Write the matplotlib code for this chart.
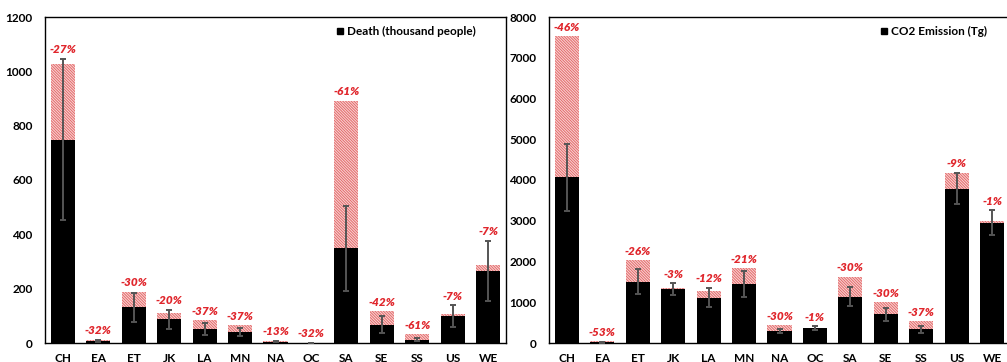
import matplotlib
matplotlib.use("Agg")
import matplotlib.pyplot as plt
from matplotlib.lines import Line2D
import numpy as np

plt.rcParams['font.family'] = ['Lato', 'DejaVu Sans']
plt.rcParams['font.weight'] = 'bold'
plt.rcParams['hatch.linewidth'] = 0.7

regions = ["CH", "EA", "ET", "JK", "LA", "MN", "NA", "OC", "SA", "SE", "SS", "US", "WE"]

# Premature deaths (thousand people): baseline total, relative change (%), uncertainty
death_total = [1026, 12.5, 188, 109, 84, 65, 6.3, 1.5, 892, 117, 33, 107, 286]
death_pct = [-27, -32, -30, -20, -37, -37, -13, -32, -61, -42, -61, -7, -7]
death_err = [298, 4, 53, 35, 22, 16, 3, 0.5, 158, 30, 6, 39, 110]

# CO2 emission (Tg): baseline total, relative change (%), uncertainty
co2_total = [7524, 44, 2037, 1361, 1264, 1834, 434, 371, 1630, 1004, 532, 4166, 2986]
co2_pct = [-46, -53, -26, -3, -12, -21, -30, -1, -30, -30, -37, -9, -1]
co2_err = [813, 15, 317, 143, 240, 308, 50, 48, 235, 158, 90, 386, 300]

death_ticks = [0, 200, 400, 600, 800, 1000, 1200]
co2_ticks = [0, 1000, 2000, 3000, 4000, 5000, 6000, 7000, 8000]

RED = "#e0262c"
HATCH_EDGE = "#e36a6a"
HATCH_FACE = "#f9d6d6"

W, H = 1007, 362
fig = plt.figure(figsize=(W / 100, H / 100), dpi=100)
ax1 = fig.add_axes([45 / W, 1 - 343 / H, 461 / W, 326 / H])
ax2 = fig.add_axes([549 / W, 1 - 343 / H, 461 / W, 326 / H])


def draw_panel(ax, total, pct, err, ticks, legend_label, legend_x):
    total = np.array(total, dtype=float)
    pct = np.array(pct, dtype=float)
    err = np.array(err, dtype=float)
    reduced = total * (1 + pct / 100.0)
    x = np.arange(len(regions))
    width = 0.68

    ax.bar(x, total, width, color=HATCH_FACE, edgecolor=HATCH_EDGE,
           hatch="\\" * 12, linewidth=0, zorder=2)
    ax.bar(x, reduced, width, color="black", linewidth=0, zorder=3)
    ax.errorbar(x, reduced, yerr=err, fmt="none", ecolor="#555555",
                elinewidth=1.4, capsize=2.2, capthick=1.4, zorder=4)

    for xi, t, r, e, p in zip(x, total, reduced, err, pct):
        top = max(t, r + e)
        ax.annotate(f"{int(p)}%", (xi, top), xytext=(0, 2.5),
                    textcoords="offset points", ha="center", va="bottom",
                    color=RED, fontsize=8.5, fontweight="heavy", style="italic",
                    annotation_clip=False, zorder=5)

    ax.set_xlim(-0.5, len(regions) - 0.5)
    ax.set_ylim(ticks[0], ticks[-1])
    ax.set_yticks(ticks)
    ax.set_yticklabels([str(t) for t in ticks])
    ax.set_xticks(x)
    ax.set_xticklabels(regions)
    ax.tick_params(axis="both", length=0, labelsize=8.5, colors="black")
    ax.tick_params(axis="y", pad=9)
    ax.tick_params(axis="x", pad=7)
    for s in ax.spines.values():
        s.set_linewidth(1.0)
        s.set_color("black")

    handle = Line2D([], [], marker="s", color="black", linestyle="none",
                    markersize=5)
    ax.legend([handle], [legend_label], loc="upper right",
              bbox_to_anchor=(legend_x, 1.0), frameon=False,
              handlelength=0.6, handletextpad=0.3, borderpad=0.3,
              prop={"size": 8.5, "weight": "bold"})


draw_panel(ax1, death_total, death_pct, death_err, death_ticks,
           "Death (thousand people)", 0.955)
draw_panel(ax2, co2_total, co2_pct, co2_err, co2_ticks,
           "CO2 Emission (Tg)", 0.97)

fig.savefig("out.png", dpi=100)
